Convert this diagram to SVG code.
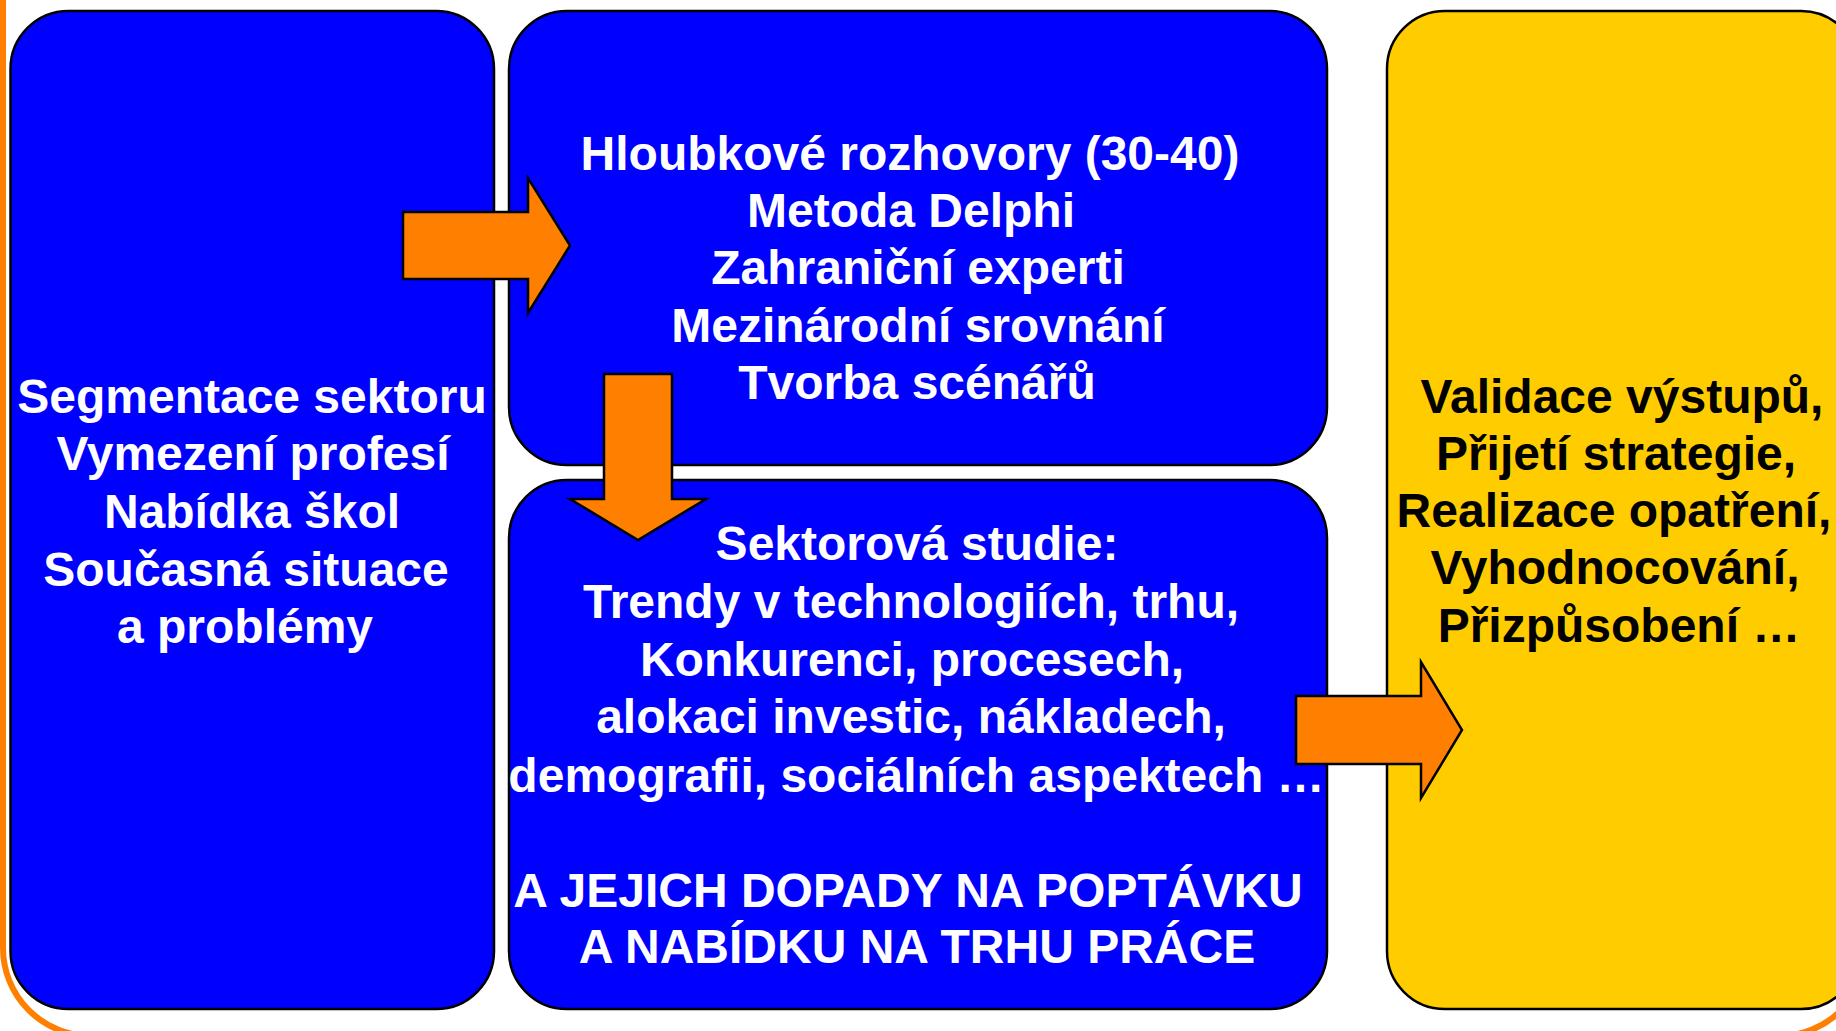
<svg xmlns="http://www.w3.org/2000/svg" width="1836" height="1031" viewBox="0 0 1836 1031">
  <style>
    .box { stroke: #000; stroke-width: 2.5; }
    .blue { fill: #0000FF; }
    .yellow { fill: #FFCC00; }
    .arrow { fill: #FF7F00; stroke: #000; stroke-width: 2.5; stroke-linejoin: miter; }
    .t { font-family: "Liberation Sans", Arial, sans-serif; font-weight: bold; font-size: 48px; text-anchor: middle; }
    .w { fill: #FFFFFF; }
    .k { fill: #000000; }
  </style>
  <rect x="0" y="0" width="1836" height="1031" fill="#FFFFFF"/>
  <g id="frame">
    <rect x="3" y="-120" width="1864" height="1156" rx="88" ry="88" fill="none" stroke="#FF7F00" stroke-width="6"/>
  </g>
  <g id="node-segmentace">
    <rect class="box blue" x="10.5" y="11" width="483.5" height="998" rx="58" ry="58"/>
    <text class="t w" x="252" y="413">Segmentace sektoru</text>
    <text class="t w" x="253" y="470">Vymezení profesí</text>
    <text class="t w" x="252" y="528">Nabídka škol</text>
    <text class="t w" x="246" y="586">Současná situace</text>
    <text class="t w" x="245" y="643">a problémy</text>
  </g>
  <g id="node-rozhovory">
    <rect class="box blue" x="509" y="11" width="818" height="454" rx="58" ry="58"/>
    <text class="t w" x="910" y="170">Hloubkové rozhovory (30-40)</text>
    <text class="t w" x="911" y="227">Metoda Delphi</text>
    <text class="t w" x="918" y="284">Zahraniční experti</text>
    <text class="t w" x="918" y="342">Mezinárodní srovnání</text>
    <text class="t w" x="917" y="399">Tvorba scénářů</text>
  </g>
  <g id="node-studie">
    <rect class="box blue" x="509" y="480" width="818" height="529" rx="58" ry="58"/>
    <text class="t w" x="917" y="560">Sektorová studie:</text>
    <text class="t w" x="911" y="618">Trendy v technologiích, trhu,</text>
    <text class="t w" x="912" y="676">Konkurenci, procesech,</text>
    <text class="t w" x="911" y="733">alokaci investic, nákladech,</text>
    <text class="t w" x="916.5" y="792">demografii, sociálních aspektech …</text>
    <text class="t w" x="908" y="907">A JEJICH DOPADY NA POPTÁVKU</text>
    <text class="t w" x="917" y="963">A NABÍDKU NA TRHU PRÁCE</text>
  </g>
  <g id="node-validace">
    <rect class="box yellow" x="1387" y="11" width="472" height="998" rx="58" ry="58"/>
    <text class="t k" x="1622" y="413">Validace výstupů,</text>
    <text class="t k" x="1616" y="470">Přijetí strategie,</text>
    <text class="t k" x="1614" y="527">Realizace opatření,</text>
    <text class="t k" x="1615" y="584">Vyhodnocování,</text>
    <text class="t k" x="1619" y="642">Přizpůsobení …</text>
  </g>
  <g id="connectors">
    <polygon class="arrow" points="403,212 528,212 528,178 570,245.5 528,313 528,279 403,279"/>
    <polygon class="arrow" points="604,374 672,374 672,499 706,499 638,540 570,499 604,499"/>
    <polygon class="arrow" points="1296,696 1421,696 1421,662 1462,730 1421,798 1421,764 1296,764"/>
  </g>
</svg>
